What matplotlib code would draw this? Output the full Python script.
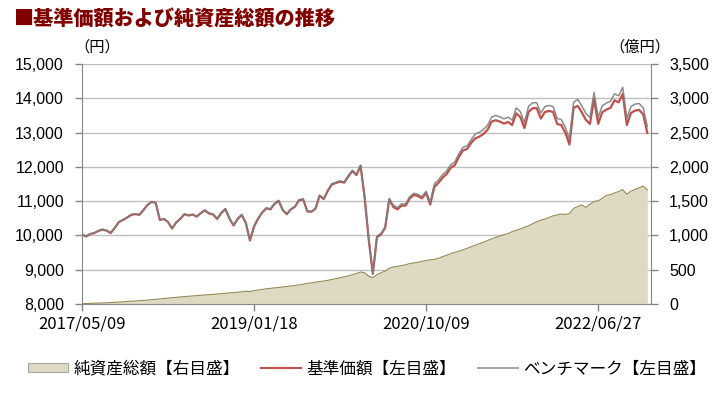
import matplotlib
matplotlib.use("Agg")
import matplotlib.pyplot as plt
from matplotlib.patches import Patch
from matplotlib.lines import Line2D
import numpy as np

# values, one sample every 10 business days
nav = [10030, 9970, 10040, 10070, 10130, 10170, 10140, 10070, 10220, 10390,
       10450, 10520, 10600, 10620, 10600, 10740, 10890, 10980, 10950, 10450,
       10480, 10390, 10200, 10380, 10480, 10620, 10580, 10610, 10550, 10650,
       10730, 10640, 10610, 10480, 10650, 10770, 10490, 10290, 10480, 10600,
       10360, 9850, 10260, 10490, 10670, 10790, 10760, 10920, 11010, 10740,
       10620, 10760, 10840, 11030, 11050, 10700, 10690, 10780, 11160, 11060,
       11300, 11490, 11530, 11570, 11540, 11720, 11880, 11760, 12030, 11100,
       9870, 8880, 9950, 10030, 10220, 11050, 10830, 10760, 10870, 10870,
       11080, 11180, 11150, 11080, 11240, 10900, 11410, 11530, 11680, 11790,
       11970, 12050, 12290, 12480, 12520, 12700, 12830, 12880, 12960, 13080,
       13320, 13360, 13320, 13260, 13310, 13220, 13560, 13450, 13130, 13600,
       13710, 13710, 13410, 13600, 13630, 13600, 13250, 13220, 12990, 12650,
       13720, 13780, 13590, 13370, 13250, 13980, 13250, 13590, 13670, 13720,
       13940, 13880, 14130, 13220, 13570, 13640, 13660, 13530, 12990]

bench = [10035, 9975, 10045, 10075, 10135, 10175, 10145, 10075, 10225, 10395,
         10455, 10525, 10605, 10625, 10605, 10745, 10895, 10985, 10955, 10455,
         10485, 10395, 10205, 10385, 10485, 10625, 10585, 10615, 10555, 10655,
         10740, 10650, 10620, 10490, 10660, 10780, 10500, 10300, 10490, 10610,
         10370, 9860, 10270, 10500, 10680, 10800, 10770, 10930, 11020, 10750,
         10630, 10770, 10850, 11040, 11060, 10710, 10700, 10790, 11170, 11070,
         11320, 11510, 11550, 11590, 11560, 11740, 11900, 11780, 12050, 11130,
         9900, 8900, 9980, 10060, 10250, 11080, 10880, 10810, 10920, 10920,
         11130, 11230, 11200, 11130, 11290, 10950, 11500, 11620, 11770, 11880,
         12060, 12140, 12380, 12570, 12610, 12790, 12960, 13010, 13090, 13210,
         13450, 13500, 13460, 13400, 13450, 13360, 13720, 13610, 13290, 13760,
         13870, 13870, 13570, 13760, 13790, 13760, 13410, 13380, 13150, 12810,
         13880, 13970, 13780, 13560, 13440, 14170, 13440, 13780, 13860, 13910,
         14130, 14070, 14320, 13410, 13760, 13830, 13850, 13720, 13180]

# 純資産総額 (億円)
assets = [5, 7, 9, 11, 13, 15, 18, 21, 24, 28,
          32, 35, 39, 43, 47, 52, 57, 62, 68, 74,
          80, 85, 91, 97, 103, 108, 113, 118, 123, 128,
          132, 136, 141, 146, 150, 155, 160, 166, 172, 178,
          185, 182, 196, 204, 212, 222, 228, 235, 241, 248,
          255, 262, 270, 279, 289, 300, 309, 318, 327, 336,
          345, 357, 370, 383, 396, 410, 428, 445, 468, 455,
          405, 385, 430, 455, 480, 520, 540, 548, 560, 572,
          590, 598, 610, 622, 635, 645, 652, 665, 690, 710,
          735, 752, 770, 790, 812, 835, 858, 880, 902, 925,
          950, 970, 992, 1010, 1030, 1055, 1075, 1095, 1118, 1140,
          1170, 1200, 1222, 1240, 1262, 1285, 1300, 1312, 1305, 1318,
          1395, 1420, 1445, 1410, 1455, 1495, 1505, 1540, 1585, 1595,
          1620, 1640, 1668, 1600, 1645, 1670, 1695, 1720, 1665]

date_ticks = [0, 420, 840, 1260]
date_labels = ["2017/05/09", "2019/01/18", "2020/10/09", "2022/06/27"]

W, H = 724, 396
L, R, B, T = 82, 651, 304, 64

JP = ["Noto Sans CJK JP", "DejaVu Sans"]
NUM = "Liberation Sans"
GRID = "#BFBFBF"
AXC = "#868686"

x = np.arange(len(nav)) * 10

fig = plt.figure(figsize=(W / 100, H / 100), dpi=100)
ax1 = fig.add_axes([L / W, 1 - B / H, (R - L) / W, (B - T) / H])
ax2 = ax1.twinx()
ax1.set_zorder(2)
ax2.set_zorder(1)
ax1.patch.set_visible(False)
ax2.patch.set_visible(True)
ax2.patch.set_facecolor("white")

# net assets, right scale
ax2.fill_between(x, assets, 0, color="#DDD9C3", lw=0)
ax2.plot(x, assets, color="#948A54", lw=0.8)
ax2.set_ylim(0, 3500)
ax2.set_yticks(np.arange(0, 3501, 500))
ax2.set_yticklabels([f"{v:,}" for v in range(0, 3501, 500)], fontname=NUM, fontsize=11.5)
ax2.yaxis.grid(True, color=GRID, lw=1)
ax2.set_axisbelow(True)

# NAV and benchmark, left scale
ax1.plot(x, nav, color="#C0504D", lw=1.6)
ax1.plot(x, bench, color="#7F7F7F", lw=1.1, alpha=0.9)
ax1.set_ylim(8000, 15000)
ax1.set_yticks(np.arange(8000, 15001, 1000))
ax1.set_yticklabels([f"{v:,}" for v in range(8000, 15001, 1000)], fontname=NUM, fontsize=11.5)
ax1.set_xlim(0, 1389)
ax1.set_xticks(date_ticks)
ax1.set_xticklabels(date_labels, family=JP, fontsize=12)

for ax in (ax1, ax2):
    ax.spines["top"].set_visible(False)
    for s in ax.spines.values():
        s.set_color(AXC)
    ax.tick_params(colors=AXC, labelcolor="black", length=5, width=1, pad=8)
ax1.spines["right"].set_visible(False)
ax2.spines["left"].set_visible(False)
ax2.spines["bottom"].set_visible(False)
ax1.tick_params(axis="x", pad=3)

fig.text(14 / W, 1 - 20 / H, "■基準価額および純資産総額の推移", family=JP,
         fontsize=14.5, fontweight="heavy", color="#800000", va="center", ha="left")
fig.text(74 / W, 1 - 47 / H, "（円）", family=JP, fontsize=11, va="center", ha="left")
fig.text(670 / W, 1 - 47 / H, "（億円）", family=JP, fontsize=11, va="center", ha="right")

handles = [Patch(facecolor="#DDD9C3", edgecolor="#A6A6A6", lw=0.8),
           Line2D([], [], color="#C0504D", lw=1.5),
           Line2D([], [], color="#A6A6A6", lw=1.5)]
labels = ["純資産総額【右目盛】", "基準価額【左目盛】", "ベンチマーク【左目盛】"]
fig.legend(handles, labels, loc="center", bbox_to_anchor=(367 / W, 1 - 369 / H),
           ncol=3, frameon=False, prop={"family": JP, "size": 12},
           handlelength=2.4, handleheight=0.5, handletextpad=0.3, columnspacing=1.3)

fig.savefig("out.png", dpi=100)
